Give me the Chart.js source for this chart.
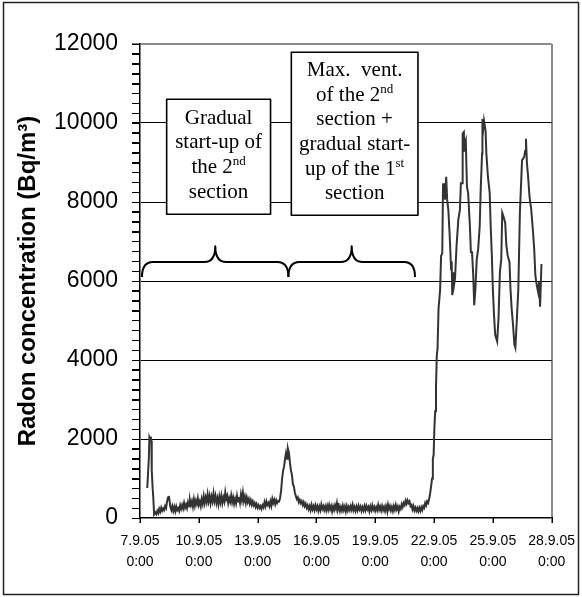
<!DOCTYPE html>
<html><head><meta charset="utf-8">
<script src="https://cdn.jsdelivr.net/npm/chart.js@4.4.0/dist/chart.umd.min.js"></script>
<style>html,body{margin:0;padding:0;background:#fff}#wrap{width:582px;height:597px;position:relative}</style>
</head><body><div id="wrap"><canvas id="c"></canvas></div>
<script>
// x values are days since 7.9.05 0:00
const tickDates = ['7.9.05','10.9.05','13.9.05','16.9.05','19.9.05','22.9.05','25.9.05','28.9.05'];
const tickTimes = ['0:00','0:00','0:00','0:00','0:00','0:00','0:00','0:00'];
const yTitle = 'Radon concentration (Bq/m³)';

// initial spike
const spikeDays = [0.37,0.45,0.48,0.52,0.55,0.58,0.60,0.64,0.68,0.72,0.78,0.83,0.88,0.93,0.98,1.03,1.08,1.13,1.18,1.23,1.28,1.33,1.38,1.43,1.47,1.51,1.55,1.60,1.65,1.70];
const spikeValues = [760,1500,2050,2000,2060,1950,1200,800,500,90,140,100,180,120,230,160,260,180,240,200,300,250,420,520,560,430,280,200,300,180];

// low period, sampled every 0.05 day from day 1.75
const lowStart = 1.75, lowStep = 0.05;
const lowValues = [
 280,170,290,200,250,180,320,230,330,240,380,260,340,250,400,300,450,330,430,290,
 470,310,440,350,500,330,420,300,480,360,550,380,520,400,600,420,560,380,540,420,
 620,430,560,380,500,350,540,400,560,380,520,420,650,480,560,380,500,410,570,400,
 520,360,480,370,560,420,530,390,600,450,640,430,540,380,520,400,480,360,450,340,
 420,320,380,280,350,260,320,250,300,230,320,270,400,300,420,330,380,300,420,310,
 480,380,460,350,450,380,430,420,520,700,1000,1200,1300,1500,1650,1500,1750,1650,1400,1200,
 1100,850,800,640,560,480,520,400,460,380,430,330,400,300,360,260,320,220,300,200,
 330,220,300,200,320,220,300,180,290,200,340,230,300,200,290,190,310,210,330,220,
 300,170,290,200,320,230,380,220,300,180,280,190,310,200,290,170,300,190,280,200,
 300,210,330,200,280,180,290,200,310,220,290,180,270,190,300,200,310,220,280,170,
 290,200,320,210,280,180,270,200,330,210,290,190,300,200,280,180,300,200,340,220,
 300,190,280,180,300,210,330,220,290,170,280,230,350,280,380,330,440,360,450,380,
 420,300,330,220,300,190,260,180,250,170,260,180,270,200,300,260,380,320,420,380,
 480];

// high period after 22.9.05
const highDays = [
 14.80,14.85,14.90,14.94,14.98,15.02,15.06,15.10,15.14,15.18,
 15.23,15.31,15.36,15.42,15.46,15.50,15.53,15.56,15.62,15.67,
 15.73,15.80,15.87,15.90,15.93,15.98,16.02,16.07,16.15,16.24,
 16.32,16.37,16.44,16.46,16.52,16.55,16.57,16.62,16.68,16.74,
 16.83,16.88,16.94,17.00,17.05,17.11,17.18,17.25,17.33,17.38,
 17.45,17.47,17.52,17.55,17.63,17.67,17.75,17.84,17.89,17.95,
 18.00,18.06,18.12,18.22,18.29,18.36,18.43,18.48,18.54,18.63,
 18.69,18.76,18.85,18.90,18.96,19.03,19.10,19.15,19.22,19.30,
 19.38,19.49,19.60,19.65,19.69,19.74,19.80,19.87,19.96,20.04,
 20.11,20.17,20.24,20.31,20.36,20.41,20.48];
const highValues = [
 620,800,1000,1500,1600,2300,2700,3300,4100,4300,
 5300,5770,6640,6700,8475,8200,8430,8060,8640,8060,
 7800,7140,6300,6500,5640,6220,5900,6060,6900,7560,
 7800,8475,8475,9725,9770,9300,9475,9560,8390,8225,
 7390,6725,6725,6140,5390,5800,6560,6800,7390,8300,
 9225,10100,9900,10060,9800,9225,8640,8225,7390,6640,
 5800,5140,4640,4475,5060,6225,6560,7725,7640,7475,
 6900,6640,6475,5800,5300,4890,4390,4310,4980,5800,
 7725,9060,9140,9300,9600,8975,8640,8140,7800,7310,
 6810,6140,5890,5720,5970,5350,6430];

// annotations (data coordinates)
const braceSpans = [[0.1, 3.84, 7.57], [7.57, 10.8, 14.03]]; // start, peak, end (days)
const braceLevels = [6100, 6480, 6880];                    // ends, bar, peak (Bq/m3)
const boxRanges = [[1.36, 6.66, 10600, 7690], [7.72, 14.18, 11790, 7665]];
const boxTexts = [
  [[['Gradual']], [['start-up of']], [['the 2'], ['nd', 1]], [['section']]],
  [[['Max.  vent.']], [['of the 2'], ['nd', 1]], [['section +']], [['gradual start-']], [['up of the 1'], ['st', 1]], [['section']]]
];

const points = [];
spikeDays.forEach((d, i) => points.push({x: d, y: spikeValues[i]}));
lowValues.forEach((v, i) => points.push({x: +(lowStart + i * lowStep).toFixed(2), y: v}));
highDays.forEach((d, i) => points.push({x: d, y: highValues[i]}));

const SANS = "'Liberation Sans', Arial, sans-serif";
const SERIF = "'Liberation Serif', 'Times New Roman', serif";

const annot = {
  id: 'annot',
  afterDatasetsDraw(chart) {
    const {ctx, scales: {x, y}} = chart;
    ctx.save();
    // braces
    ctx.strokeStyle = '#000'; ctx.lineWidth = 2; ctx.lineJoin = 'round';
    const yE = y.getPixelForValue(braceLevels[0]), yM = y.getPixelForValue(braceLevels[1]), yT = y.getPixelForValue(braceLevels[2]);
    braceSpans.forEach(([a, m, b]) => {
      const x1 = x.getPixelForValue(a), xm = x.getPixelForValue(m), x2 = x.getPixelForValue(b);
      const r = 11;
      ctx.beginPath();
      ctx.moveTo(x1, yE);
      ctx.quadraticCurveTo(x1, yM, x1 + r, yM);
      ctx.lineTo(xm - r, yM);
      ctx.quadraticCurveTo(xm, yM, xm, yT);
      ctx.quadraticCurveTo(xm, yM, xm + r, yM);
      ctx.lineTo(x2 - r, yM);
      ctx.quadraticCurveTo(x2, yM, x2, yE);
      ctx.stroke();
    });
    // boxes
    boxRanges.forEach((bx, k) => {
      const l = x.getPixelForValue(bx[0]), r = x.getPixelForValue(bx[1]);
      const t = y.getPixelForValue(bx[2]), b = y.getPixelForValue(bx[3]);
      ctx.fillStyle = '#fff';
      ctx.fillRect(l, t, r - l, b - t);
      ctx.lineWidth = 1.6; ctx.strokeStyle = '#000';
      ctx.strokeRect(l, t, r - l, b - t);
      const lines = boxTexts[k];
      const lh = 24.6;
      const cx = (l + r) / 2, cy = (t + b) / 2;
      ctx.fillStyle = '#000';
      ctx.textBaseline = 'alphabetic';
      ctx.textAlign = 'left';
      lines.forEach((segs, i) => {
        const base = cy + (i - (lines.length - 1) / 2) * lh + 4;
        let w = 0;
        segs.forEach(s => { ctx.font = s[1] ? '13px ' + SERIF : '21px ' + SERIF; w += ctx.measureText(s[0]).width; });
        let px = cx - w / 2;
        segs.forEach(s => {
          ctx.font = s[1] ? '13px ' + SERIF : '21px ' + SERIF;
          ctx.fillText(s[0], px, s[1] ? base - 8 : base);
          px += ctx.measureText(s[0]).width;
        });
      });
    });
    ctx.restore();
  },
  afterDraw(chart) {
    const {ctx, scales: {x, y}, chartArea: ca} = chart;
    ctx.save();
    // axis tick marks (minor every 250 on y, every 3 days on x)
    ctx.strokeStyle = '#000'; ctx.lineWidth = 1;
    ctx.beginPath();
    y.ticks.forEach(t => {
      const py = Math.round(y.getPixelForValue(t.value)) + 0.5;
      ctx.moveTo(ca.left - 8, py); ctx.lineTo(ca.left, py);
    });
    x.ticks.forEach(t => {
      const px = Math.round(x.getPixelForValue(t.value)) + 0.5;
      ctx.moveTo(px, ca.bottom); ctx.lineTo(px, ca.bottom + 5);
    });
    ctx.stroke();
    // outer frame
    ctx.strokeStyle = '#222'; ctx.lineWidth = 1.5;
    ctx.strokeRect(3.5, 2.5, 575, 592);
    ctx.restore();
  }
};

new Chart(document.getElementById('c'), {
  type: 'line',
  data: { datasets: [{ data: points, borderColor: '#333', borderWidth: 2, pointRadius: 0, tension: 0, fill: false }] },
  options: {
    responsive: true, maintainAspectRatio: false, animation: false,
    layout: { padding: { left: 4, right: 26, top: 44, bottom: 4 } },
    plugins: { legend: { display: false }, tooltip: { enabled: false } },
    scales: {
      x: {
        type: 'linear', min: 0, max: 21,
        border: { display: true, color: '#000', width: 1.5 },
        grid: {
          color: c => (c.tick && c.tick.value === 21) ? '#8a8a8a' : 'rgba(0,0,0,0)',
          lineWidth: 2, tickColor: '#000', tickLength: 5, tickWidth: 1
        },
        ticks: {
          stepSize: 3, autoSkip: false, maxRotation: 0, color: '#000', padding: 7,
          font: { family: SANS, size: 14, lineHeight: 1.55 },
          callback: (v, i) => [tickDates[i], tickTimes[i]]
        },
        afterFit: s => { s.height = 75; }
      },
      y: {
        min: 0, max: 12000,
        border: { display: true, color: '#000', width: 1.5 },
        grid: {
          color: c => { const v = c.tick ? c.tick.value : -1; if (v === 12000) return '#8a8a8a'; if (v > 0 && v % 2000 === 0) return '#000'; return 'rgba(0,0,0,0)'; },
          lineWidth: c => (c.tick && c.tick.value === 12000) ? 2 : 1,
          tickColor: '#000', tickLength: 8, tickWidth: 1
        },
        ticks: {
          stepSize: 250, autoSkip: false, color: '#000', padding: 14,
          font: { family: SANS, size: 23 },
          callback: v => (v % 2000 === 0 ? String(v) : '')
        },
        title: { display: true, text: yTitle, color: '#000', font: { family: SANS, size: 24, weight: 'bold' }, padding: { top: 10, bottom: 0 } },
        afterFit: s => { s.width = 136; }
      }
    }
  },
  plugins: [annot]
});
</script>
</body></html>
